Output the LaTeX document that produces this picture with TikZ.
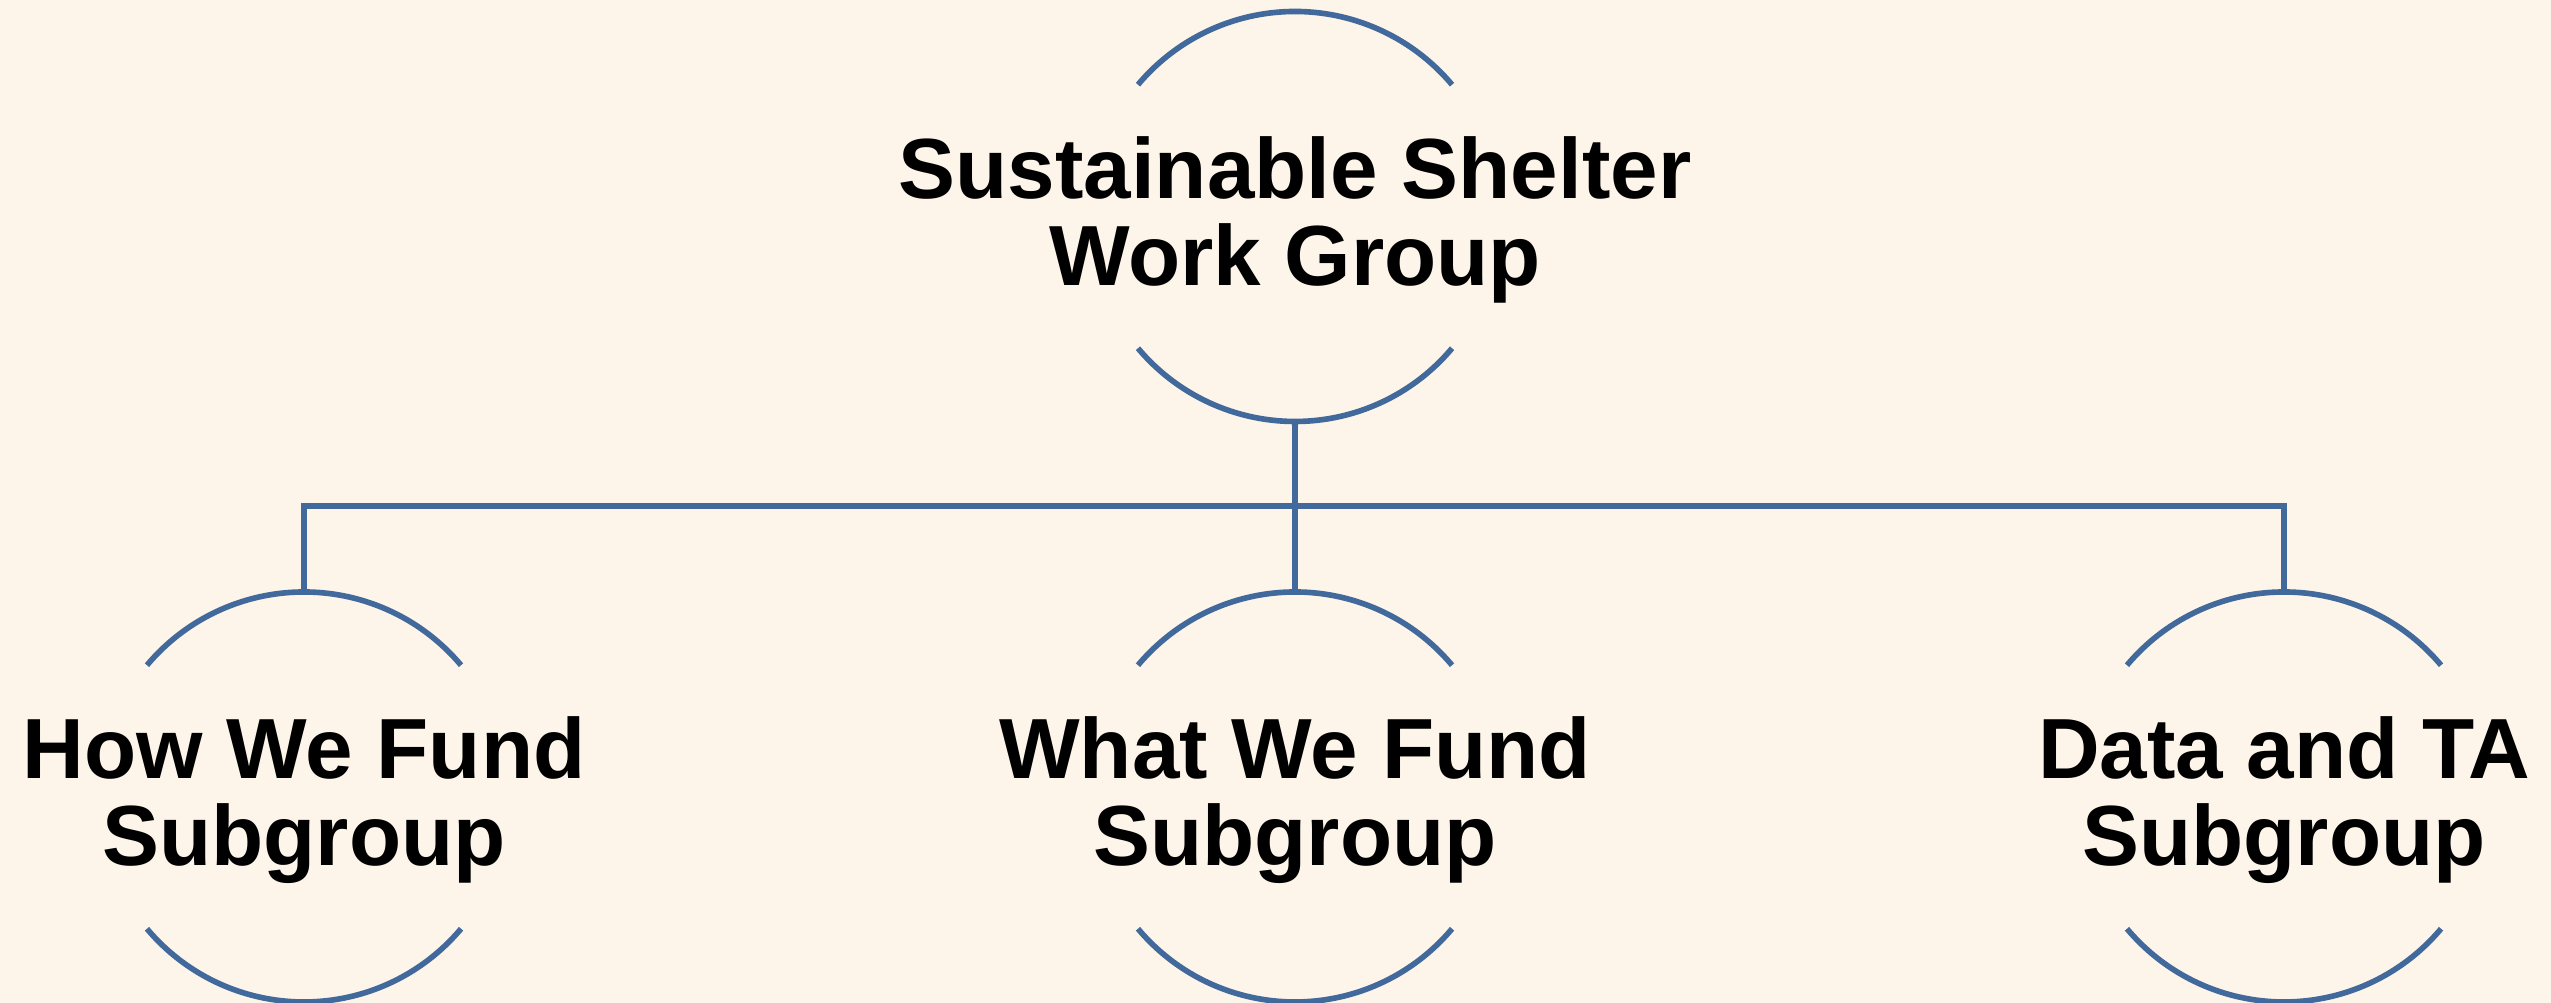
\documentclass[tikz,border=0pt]{standalone}
\usepackage{fontspec}
\setmainfont{Liberation Sans}
\definecolor{paper}{HTML}{FDF5E9}
\definecolor{ringblue}{HTML}{41699B}
\tikzset{
  link/.style={draw=ringblue, line width=1.6pt},
  ring/.style={circle, minimum size=4.1cm, inner sep=0pt, outer sep=0pt},
  grouptext/.style={align=center, inner sep=0pt, yshift=-0.035cm, font=\fontsize{24.3}{24.7}\selectfont\bfseries}
}
\begin{document}
\begin{tikzpicture}
  \fill[paper] (0,0) rectangle (25.51,10.03);
  \useasboundingbox (0,0) rectangle (25.51,10.03);

  \node (top) at (12.95, 7.865) [ring] {};
  \node (how) at (3.04, 2.06) [ring] {};
  \node (what) at (12.95, 2.06) [ring] {};
  \node (data) at (22.84, 2.06) [ring] {};
  \coordinate (bus) at (0, 4.97);

  \node (toptext) at (top) [grouptext] {Sustainable Shelter\\Work Group};
  \node (howtext) at (how) [grouptext] {How We Fund\\Subgroup};
  \node (whattext) at (what) [grouptext] {What We Fund\\Subgroup};
  \node (datatext) at (data) [grouptext] {Data and TA\\Subgroup};

  % the open rings
  \foreach \n in {top, how, what, data} {
    \draw[link] (\n.40) arc[start angle=40, end angle=140, radius=2.05cm];
    \draw[link] (\n.220) arc[start angle=220, end angle=320, radius=2.05cm];
  }

  \draw[link] (top.south) -- (what.north);
  \draw[link] (how.north) |- (data.north |- bus) -- (data.north);
\end{tikzpicture}
\end{document}
